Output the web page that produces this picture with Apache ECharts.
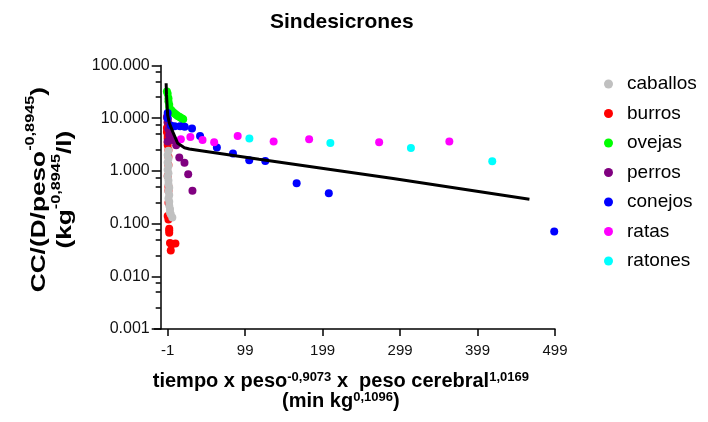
<!DOCTYPE html>
<html><head><meta charset="utf-8">
<script src="https://cdn.jsdelivr.net/npm/echarts@6/dist/echarts.min.js"></script>
<style>html,body{margin:0;padding:0;background:#fff}#c{width:708px;height:422px}</style>
</head><body><div id="c"></div>
<script>
// ---- data ----
const seriesNames = ['caballos','burros','ovejas','perros','conejos','ratas','ratones'];
const caballos = [[0,2.4],[-1,2.0],[0,1.7],[-1,1.45],[0,1.25],[-1,1.05],[0,0.9],[-1,0.78],[0,0.66],[0,0.56],[1,0.48],[0,0.41],[1,0.35],[0,0.3],[1,0.26],[1,0.22],[2,0.19],[2,0.165],[3,0.15],[5,0.13]];
const burros = [[-1,9.5],[-1,8.2],[-2,6.5],[-2,5.5],[-1,4.6],[-1,4.1],[-1,3.5],[-1,3.1],[0,2.5],[0,1.85],[0,1.3],[-1,0.8],[0,0.5],[0,0.42],[0,0.25],[-1,0.14],[0,0.12],[1,0.08],[1,0.074],[1,0.067],[2,0.043],[9,0.042],[4,0.04],[3,0.031]];
const ovejas = [[-2,32],[-1,29],[0,24],[0,21],[1,18],[1,16],[2,15],[4,14],[6,13],[8,12.3],[10,11.6],[12,11],[14,10.6],[16,10.2],[18,9.8],[19,9.5]];
const perros = [[-2,10.5],[-1,8.5],[0,6.2],[1,4.8],[-1,3.6],[5,3.85],[10,3.08],[14,1.8],[20.7,1.42],[25.5,0.86],[31,0.42]];
const conejos = [[-1,12.5],[-1,10],[3,7.3],[8,7.0],[15,7.0],[21,6.9],[30.4,6.4],[40.8,4.58],[62.5,2.79],[83.3,2.13],[104.3,1.6],[125,1.54],[165.5,0.583],[207,0.376],[498,0.071]];
const ratas = [[16,4.0],[28.3,4.4],[44,3.85],[59,3.5],[89.4,4.58],[135.8,3.6],[181.6,4.0],[272,3.5],[362.6,3.6]];
const ratones = [[104.5,4.1],[209,3.38],[313,2.72],[418,1.52]];
const ajuste = [[-3,46],[-2.5,27.7],[-1,11.5],[1.2,8.0],[5.6,5.5],[12,3.33],[20.6,2.74],[27,2.6],[46.5,2.37],[117,1.67],[290,0.716],[466,0.289]];
const xTicks = [-1,99,199,299,399,499];
const colors = ['#c0c0c0','#ff0000','#00ff00','#800080','#0000ff','#ff00ff','#00ffff'];
const zOrder = [4,2,3,3,3,3,3];
const seriesData = [caballos,burros,ovejas,perros,conejos,ratas,ratones];
// minor ticks on the log axis at 2.5, 5, 7.5 of each decade (positions in log10 space)
const minorLog = [];
for (let d = -3; d < 2; d++) [2.5,5,7.5].forEach(m => minorLog.push(d + Math.log10(m)));

const FONT = 'Liberation Sans, Arial, sans-serif';
const chart = echarts.init(document.getElementById('c'), null, {renderer:'canvas'});
const series = seriesNames.map((n,i) => ({
  name:n, type:'scatter', data:seriesData[i], symbol:'circle', symbolSize:8,
  itemStyle:{color:colors[i], opacity:1}, z:zOrder[i], xAxisIndex:0, yAxisIndex:0
}));
series.push({name:'ajuste', type:'line', data:ajuste, showSymbol:false, symbol:'none',
  lineStyle:{color:'#000', width:3}, z:6, xAxisIndex:0, yAxisIndex:0});

const option = {
  animation:false,
  backgroundColor:'#fff',
  textStyle:{fontFamily:FONT},
  title:{text:'Sindesicrones', left:265, top:7,
    textStyle:{fontFamily:FONT, fontSize:21, fontWeight:'bold', color:'#000'}},
  legend:{
    data:seriesNames.map(n => ({name:n, icon:'circle'})),
    orient:'vertical', left:599, top:69, itemWidth:9, itemHeight:9, itemGap:9.5,
    textStyle:{fontFamily:FONT, fontSize:19, lineHeight:20, color:'#000', padding:[0,0,0,9]}
  },
  graphic:[{
    type:'text', x:50, y:190, rotation:Math.PI/2, scaleX:1.25, scaleY:1,
    style:{
      text:'{g| }{m|CC/(D/peso}{s|-0,8945}{m|)}\n{g| }{m|(kg}{s|-0,8945}{m|/l)}',
      align:'center', verticalAlign:'middle', fill:'#000', fontFamily:FONT,
      rich:{
        g:{fontSize:2, lineHeight:26},
        m:{fontSize:21, fontWeight:'bold', lineHeight:21, verticalAlign:'bottom', fill:'#000', fontFamily:FONT},
        s:{fontSize:13, fontWeight:'bold', lineHeight:13, verticalAlign:'top', fill:'#000', fontFamily:FONT}
      }
    }
  },{
    type:'line', shape:{x1:154, y1:329, x2:161, y2:329}, style:{stroke:'#000', lineWidth:1.5}
  }],
  grid:{left:160.7, right:153, top:65.5, bottom:93, containLabel:false},
  xAxis:{
    type:'value', min:-10, max:499,
    axisLine:{show:true, onZero:false, lineStyle:{color:'#000', width:1.5}},
    axisTick:{show:true, length:7, customValues:xTicks, lineStyle:{color:'#000', width:1.5}},
    axisLabel:{customValues:xTicks, margin:14, fontSize:15, color:'#111', fontFamily:FONT},
    splitLine:{show:false},
    name:'{m|tiempo x peso}{s|-0,9073}{m| x  peso cerebral}{s|1,0169}\n{m|(min kg}{s|0,1096}{m|)}',
    nameLocation:'middle', nameGap:42,
    nameTextStyle:{color:'#000', fontFamily:FONT, padding:[0,34,0,0], rich:{
      m:{fontSize:20, fontWeight:'bold', lineHeight:20, color:'#000', fontFamily:FONT},
      s:{fontSize:13, fontWeight:'bold', lineHeight:13, verticalAlign:'top', color:'#000', fontFamily:FONT}
    }}
  },
  yAxis:[{
    type:'log', logBase:10, min:0.001, max:100,
    axisLine:{show:true, onZero:false, lineStyle:{color:'#000', width:1.5}},
    axisTick:{show:true, length:9, lineStyle:{color:'#000', width:1.5}},
    axisLabel:{fontSize:16, margin:11, color:'#111', fontFamily:FONT, formatter:v => Number(v).toFixed(3)},
    splitLine:{show:false}, minorTick:{show:false}
  },{
    type:'value', min:-3, max:2, position:'left',
    axisLine:{show:false, onZero:false},
    axisTick:{show:true, length:5, customValues:minorLog, lineStyle:{color:'#000', width:1.5}},
    axisLabel:{show:false}, splitLine:{show:false}
  }],
  series:series
};
chart.setOption(option);
</script>
</body></html>
